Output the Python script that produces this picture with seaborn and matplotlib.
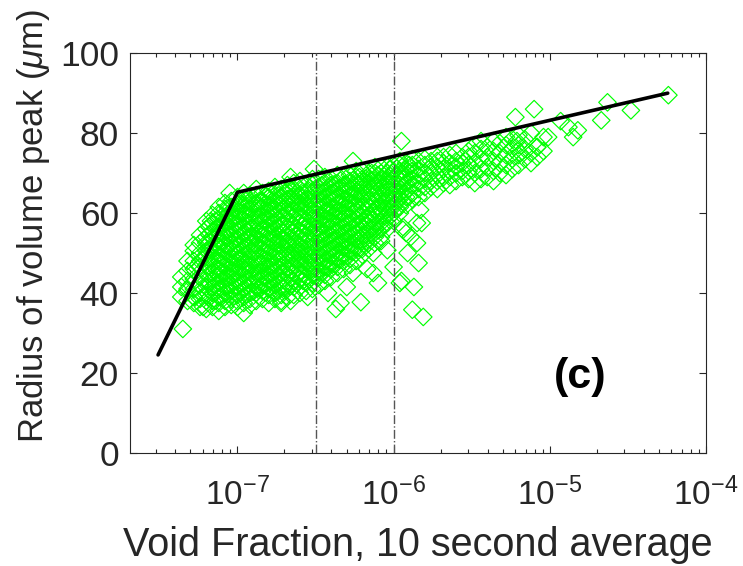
import numpy as np
import pandas as pd
import matplotlib
matplotlib.use("Agg")
import matplotlib.pyplot as plt
import seaborn as sns
from matplotlib.ticker import LogLocator, NullFormatter

# ---- data (x given as log10 of void fraction) ----
# dense cloud, one column of radii per log10(void fraction) position
col_exp = [-7.36, -7.32, -7.28, -7.24, -7.20, -7.16, -7.12, -7.08, -7.04, -7.00,
           -6.96, -6.92, -6.88, -6.84, -6.80, -6.76, -6.72, -6.68, -6.64, -6.60,
           -6.56, -6.52, -6.48, -6.44, -6.40, -6.36, -6.32, -6.28, -6.24, -6.20,
           -6.16, -6.12, -6.08, -6.04, -6.00, -5.96, -5.92, -5.88, -5.84, -5.80,
           -5.76, -5.72, -5.68, -5.64, -5.60, -5.56, -5.52,
           -5.48, -5.44, -5.40, -5.36, -5.32, -5.28, -5.24, -5.20, -5.16, -5.12,
           -5.08, -5.04]
col_radius = [
    [39, 41.5, 44],
    [38, 40.5, 43, 45.5, 48],
    [37.5, 39, 41, 43.5, 46, 48, 50.5, 52],
    [36.5, 38.5, 40, 42, 44, 46.5, 48, 50, 52.5, 54.5],
    [36, 38, 39.5, 41.5, 43, 45, 47, 49, 50.5, 52.5, 54, 56, 58],
    [36.5, 38, 40, 41.5, 43.5, 45, 47, 48.5, 50.5, 52, 54, 55.5, 57.5, 59.5],
    [35.5, 37.5, 39, 41, 42.5, 44.5, 46, 48, 49.5, 51.5, 53, 55, 56.5, 58.5, 60, 61.5],
    [36.5, 38, 40, 41.5, 43.5, 45, 47, 48.5, 50.5, 52, 54, 55.5, 57.5, 59, 61, 62.5],
    [37, 38.5, 40.5, 42, 44, 45.5, 47.5, 49, 51, 52.5, 54.5, 56, 58, 59.5, 61.5, 63],
    [36.5, 38, 39.5, 41.5, 43, 45, 46.5, 48.5, 50, 52, 53.5, 55.5, 57, 59, 60.5, 62.5, 64],
    [37.5, 39, 41, 42.5, 44.5, 46, 48, 49.5, 51.5, 53, 55, 56.5, 58.5, 60, 62, 63.5, 65],
    [37, 38.5, 40, 42, 43.5, 45.5, 47, 49, 50.5, 52.5, 54, 56, 57.5, 59.5, 61, 63, 64.5],
    [38, 40, 41.5, 43.5, 45, 47, 48.5, 50.5, 52, 54, 55.5, 57.5, 59, 61, 62.5, 64.5, 66],
    [38.5, 40.5, 42, 44, 45.5, 47.5, 49, 51, 52.5, 54.5, 56, 58, 59.5, 61.5, 63, 65],
    [37.5, 39.5, 41, 43, 44.5, 46.5, 48, 50, 51.5, 53.5, 55, 57, 58.5, 60.5, 62, 64, 65.5],
    [38.5, 40, 42, 43.5, 45.5, 47, 49, 50.5, 52.5, 54, 56, 57.5, 59.5, 61, 63, 64.5, 66.5],
    [38, 39.5, 41.5, 43, 45, 46.5, 48.5, 50, 52, 53.5, 55.5, 57, 59, 60.5, 62.5, 64, 66],
    [39, 41, 42.5, 44.5, 46, 48, 49.5, 51.5, 53, 55, 56.5, 58.5, 60, 62, 63.5, 65.5, 67],
    [39.5, 41.5, 43, 45, 46.5, 48.5, 50, 52, 53.5, 55.5, 57, 59, 60.5, 62.5, 64, 66, 67.5],
    [40, 41.5, 43.5, 45, 47, 48.5, 50.5, 52, 54, 55.5, 57.5, 59, 61, 62.5, 64.5, 66, 68],
    [40.5, 42.5, 44, 46, 47.5, 49.5, 51, 53, 54.5, 56.5, 58, 60, 61.5, 63.5, 65, 67],
    [41, 42.5, 44.5, 46, 48, 49.5, 51.5, 53, 55, 56.5, 58.5, 60, 62, 63.5, 65.5, 67, 68.5],
    [42, 44, 45.5, 47.5, 49, 51, 52.5, 54.5, 56, 58, 59.5, 61.5, 63, 65, 66.5, 68.5],
    [43, 44.5, 46.5, 48, 50, 51.5, 53.5, 55, 57, 58.5, 60.5, 62, 64, 65.5, 67.5, 69],
    [44, 46, 47.5, 49.5, 51, 53, 54.5, 56.5, 58, 60, 61.5, 63.5, 65, 67, 68.5],
    [45, 46.5, 48.5, 50, 52, 53.5, 55.5, 57, 59, 60.5, 62.5, 64, 66, 67.5, 69.5],
    [46, 48, 49.5, 51.5, 53, 55, 56.5, 58.5, 60, 62, 63.5, 65.5, 67, 69],
    [47, 48.5, 50.5, 52, 54, 55.5, 57.5, 59, 61, 62.5, 64.5, 66, 68, 69.5],
    [48, 50, 51.5, 53.5, 55, 57, 58.5, 60.5, 62, 64, 65.5, 67.5, 69, 70.5],
    [49.5, 51, 53, 54.5, 56.5, 58, 60, 61.5, 63.5, 65, 67, 68.5, 70.5],
    [51, 52.5, 54.5, 56, 58, 59.5, 61.5, 63, 65, 66.5, 68.5, 70],
    [52.5, 54, 56, 57.5, 59.5, 61, 63, 64.5, 66.5, 68, 70, 71.5],
    [54, 56, 57.5, 59.5, 61, 63, 64.5, 66.5, 68, 70, 71.5],
    [56, 57.5, 59.5, 61, 63, 64.5, 66.5, 68, 70, 71.5],
    [58, 60, 61.5, 63.5, 65, 67, 68.5, 70.5, 72],
    [60, 61.5, 63.5, 65, 67, 68.5, 70.5, 72, 73],
    [62, 64, 65.5, 67.5, 69, 71, 72.5],
    [63.5, 65, 67, 68.5, 70.5, 72, 73.5],
    [64, 66, 67.5, 69.5, 71, 73],
    [65, 66.5, 68.5, 70, 72, 73.5],
    [66.5, 68, 70, 71.5, 73],
    [66, 68, 69.5, 71.5, 73, 74],
    [67.5, 69, 71, 72.5, 74],
    [67, 69, 70.5, 72.5, 74.5],
    [68, 70, 71.5, 73, 75],
    [69, 70.5, 72.5, 74],
    [68.5, 70.5, 72, 74, 75.5],
    [67.5, 70, 72.5, 75, 77],
    [68.5, 71, 73.5, 76, 78],
    [69, 71.5, 74, 76.5],
    [68, 70.5, 73, 75.5, 78],
    [70, 72.5, 75, 77.5],
    [69.5, 72, 74.5, 77, 79],
    [71, 73.5, 76, 78.5],
    [72, 74.5, 77, 79.5],
    [73.5, 76, 78.5],
    [72.5, 75, 80],
    [74, 76.5],
    [75.5, 79],
]

# extra points in the saturated core, between the columns above
core_exp = [-7.18, -7.14, -7.10, -7.06, -7.02, -6.98, -6.94, -6.90, -6.86, -6.82,
            -6.78, -6.74, -6.70, -6.66, -6.62, -6.58, -6.54, -6.50, -6.46, -6.42,
            -6.38, -6.34, -6.30, -6.26, -6.22, -6.18, -6.14, -6.10, -6.06, -6.02,
            -5.98, -5.94, -5.90]
core_radius = [
    [38.8, 40.7, 42.6, 44.8, 46.7, 48.6, 50.8, 52.7, 54.6, 56.6],
    [38.1, 40.2, 42.1, 44.2, 46.1, 48.2, 50.1, 52.2, 54.1, 56.2, 58.1],
    [39.2, 41.1, 43.2, 45.1, 47.2, 49.1, 51.2, 53.1, 55.2, 57.1, 59.2],
    [39.7, 41.8, 43.7, 45.8, 47.7, 49.8, 51.7, 53.8, 55.7, 57.8, 59.7, 61.3],
    [39.2, 41.3, 43.2, 45.3, 47.2, 49.3, 51.2, 53.3, 55.2, 57.3, 59.2, 61.3],
    [40.1, 42.2, 44.1, 46.2, 48.1, 50.2, 52.1, 54.2, 56.1, 58.2, 60.1, 62.2],
    [39.6, 41.7, 43.6, 45.7, 47.6, 49.7, 51.6, 53.7, 55.6, 57.7, 59.6, 61.7, 63.2],
    [40.3, 42.2, 44.3, 46.2, 48.3, 50.2, 52.3, 54.2, 56.3, 58.2, 60.3, 62.2],
    [41.1, 43.0, 45.1, 47.0, 49.1, 51.0, 53.1, 55.0, 57.1, 59.0, 61.1, 63.0],
    [40.2, 42.3, 44.2, 46.3, 48.2, 50.3, 52.2, 54.3, 56.2, 58.3, 60.2, 62.3, 64.1],
    [40.9, 42.8, 44.9, 46.8, 48.9, 50.8, 52.9, 54.8, 56.9, 58.8, 60.9, 62.8, 64.6],
    [40.4, 42.3, 44.4, 46.3, 48.4, 50.3, 52.4, 54.3, 56.4, 58.3, 60.4, 62.3, 64.4],
    [41.2, 43.1, 45.2, 47.1, 49.2, 51.1, 53.2, 55.1, 57.2, 59.1, 61.2, 63.1, 65.0],
    [41.7, 43.8, 45.7, 47.8, 49.7, 51.8, 53.7, 55.8, 57.7, 59.8, 61.7, 63.8, 65.6],
    [42.3, 44.2, 46.3, 48.2, 50.3, 52.2, 54.3, 56.2, 58.3, 60.2, 62.3, 64.2],
    [43.0, 44.9, 47.0, 48.9, 51.0, 52.9, 55.0, 56.9, 59.0, 60.9, 63.0, 64.9],
    [43.4, 45.5, 47.4, 49.5, 51.4, 53.5, 55.4, 57.5, 59.4, 61.5, 63.4, 65.5],
    [44.2, 46.1, 48.2, 50.1, 52.2, 54.1, 56.2, 58.1, 60.2, 62.1, 64.2, 66.1],
    [45.1, 47.0, 49.1, 51.0, 53.1, 55.0, 57.1, 59.0, 61.1, 63.0, 65.1, 67.0],
    [46.3, 48.2, 50.3, 52.2, 54.3, 56.2, 58.3, 60.2, 62.3, 64.2, 66.3],
    [47.2, 49.1, 51.2, 53.1, 55.2, 57.1, 59.2, 61.1, 63.2, 65.1, 67.2],
    [48.3, 50.2, 52.3, 54.2, 56.3, 58.2, 60.3, 62.2, 64.3, 66.2, 68.1],
    [49.2, 51.1, 53.2, 55.1, 57.2, 59.1, 61.2, 63.1, 65.2, 67.1],
    [50.3, 52.2, 54.3, 56.2, 58.3, 60.2, 62.3, 64.2, 66.3, 68.2],
    [51.2, 53.1, 55.2, 57.1, 59.2, 61.1, 63.2, 65.1, 67.2, 69.0],
    [52.8, 54.7, 56.8, 58.7, 60.8, 62.7, 64.8, 66.7, 68.6],
    [54.3, 56.2, 58.3, 60.2, 62.3, 64.2, 66.3, 68.2, 70.0],
    [55.6, 57.5, 59.6, 61.5, 63.6, 65.5, 67.6, 69.5],
    [57.2, 59.1, 61.2, 63.1, 65.2, 67.1, 69.2],
    [59.3, 61.2, 63.3, 65.2, 67.3, 69.2, 71.0],
    [61.2, 63.1, 65.2, 67.1, 69.2, 71.1],
    [62.8, 64.7, 66.8, 68.7, 70.6],
    [64.1, 66.2, 68.1, 70.2, 72.0],
]

# scattered points outside the dense cloud
outlier_exp = [-7.35, -7.27, -7.17, -7.05, -7.32, -7.28, -7.22, -6.96, -6.72, -6.66,
               -6.55, -6.42, -6.37, -6.34, -6.30, -6.26, -6.21, -6.17, -6.13, -6.13,
               -6.10, -6.08, -6.04, -6.00, -5.96, -5.95, -5.94, -5.94, -5.92, -5.91,
               -5.89, -5.88, -5.87, -5.85, -5.85, -5.84, -5.83, -5.82, -5.81, -6.66,
               -6.51, -6.26, -5.95, -5.22, -5.21, -5.19, -5.10, -5.08, -5.01, -4.93,
               -4.88, -4.85, -4.82, -4.67, -4.63, -4.48, -4.24]
outlier_radius = [31, 46.5, 58, 65, 41, 39, 36.5, 35, 37.5, 38,
                  39, 40, 36, 37.5, 41.5, 45, 37.7, 46, 45, 50,
                  42.5, 53, 50.7, 46.5, 42.5, 43, 56.5, 55.8, 55, 50,
                  54, 35.8, 41.5, 57.5, 52.5, 47.5, 60.8, 57.5, 34, 69,
                  71, 73, 78, 84, 78, 75, 86, 76.5, 79, 83,
                  81.5, 79, 80.7, 83.2, 87.7, 85.7, 89.5]

# piecewise fit line and the two reference lines
fit_x = [3.1e-8, 1.0e-7, 5.7e-5]
fit_y = [24.5, 65.2, 90.0]
ref_lines = [10 ** -6.5, 1e-6]

# ---- build table ----
exps = []
rads = []
for e, col in list(zip(col_exp, col_radius)) + list(zip(core_exp, core_radius)):
    exps += [e] * len(col)
    rads += col
exps += outlier_exp
rads += outlier_radius
df = pd.DataFrame({"void": 10 ** np.array(exps), "radius": rads})

# ---- plot ----
sns.set_theme(style="ticks")
plt.rcParams["font.family"] = ["Liberation Sans", "DejaVu Sans"]
plt.rcParams["mathtext.fontset"] = "custom"
plt.rcParams["mathtext.rm"] = "Liberation Sans"
plt.rcParams["mathtext.it"] = "Liberation Sans:italic"
plt.rcParams["mathtext.bf"] = "Liberation Sans:bold"
plt.rcParams["axes.unicode_minus"] = False

fig = plt.figure(figsize=(7.43, 5.66), dpi=100)
ax = fig.add_axes([0.175, 0.2, 0.775, 0.706])

sns.scatterplot(data=df, x="void", y="radius", marker="D", s=80,
                color="#00ff00", facecolor="none", edgecolor="#00ff00",
                linewidth=0.85, ax=ax, zorder=2)
for xv in ref_lines:
    ax.axvline(xv, color="#555555", linestyle="-.", linewidth=1.0, zorder=3)
sns.lineplot(x=fit_x, y=fit_y, color="black", linewidth=2.6,
             estimator=None, sort=False, ax=ax, zorder=4)

ax.set_xscale("log")
ax.set_xlim(2.05e-8, 1e-4)
ax.set_ylim(0, 100)
ax.set_yticks([0, 20, 40, 60, 80, 100])
ax.xaxis.set_major_locator(LogLocator(base=10, numticks=10))
ax.xaxis.set_minor_locator(LogLocator(base=10, subs=np.arange(2, 10), numticks=20))
ax.xaxis.set_minor_formatter(NullFormatter())

ax.tick_params(which="both", direction="in", top=True, right=True,
               colors="#262626", labelsize=24, width=0.8)
ax.tick_params(which="major", length=5)
ax.tick_params(which="minor", length=3)
ax.tick_params(axis="y", pad=8, labelsize=25.5)
ax.tick_params(axis="x", pad=18)
for sp in ax.spines.values():
    sp.set_color("#262626")
    sp.set_linewidth(0.8)

ax.set_xlabel("Void Fraction, 10 second average", fontsize=28.5, color="#262626",
              labelpad=10)
ax.set_ylabel(r"Radius of volume peak ($\mu$m)", fontsize=25, color="#262626")
ax.yaxis.set_label_coords(-0.135, 0.5675)
ax.text(0.781, 0.19, "(c)", transform=ax.transAxes, ha="center", va="center",
        fontsize=31, fontweight="bold", color="black")

fig.savefig("out.png", dpi=100)
